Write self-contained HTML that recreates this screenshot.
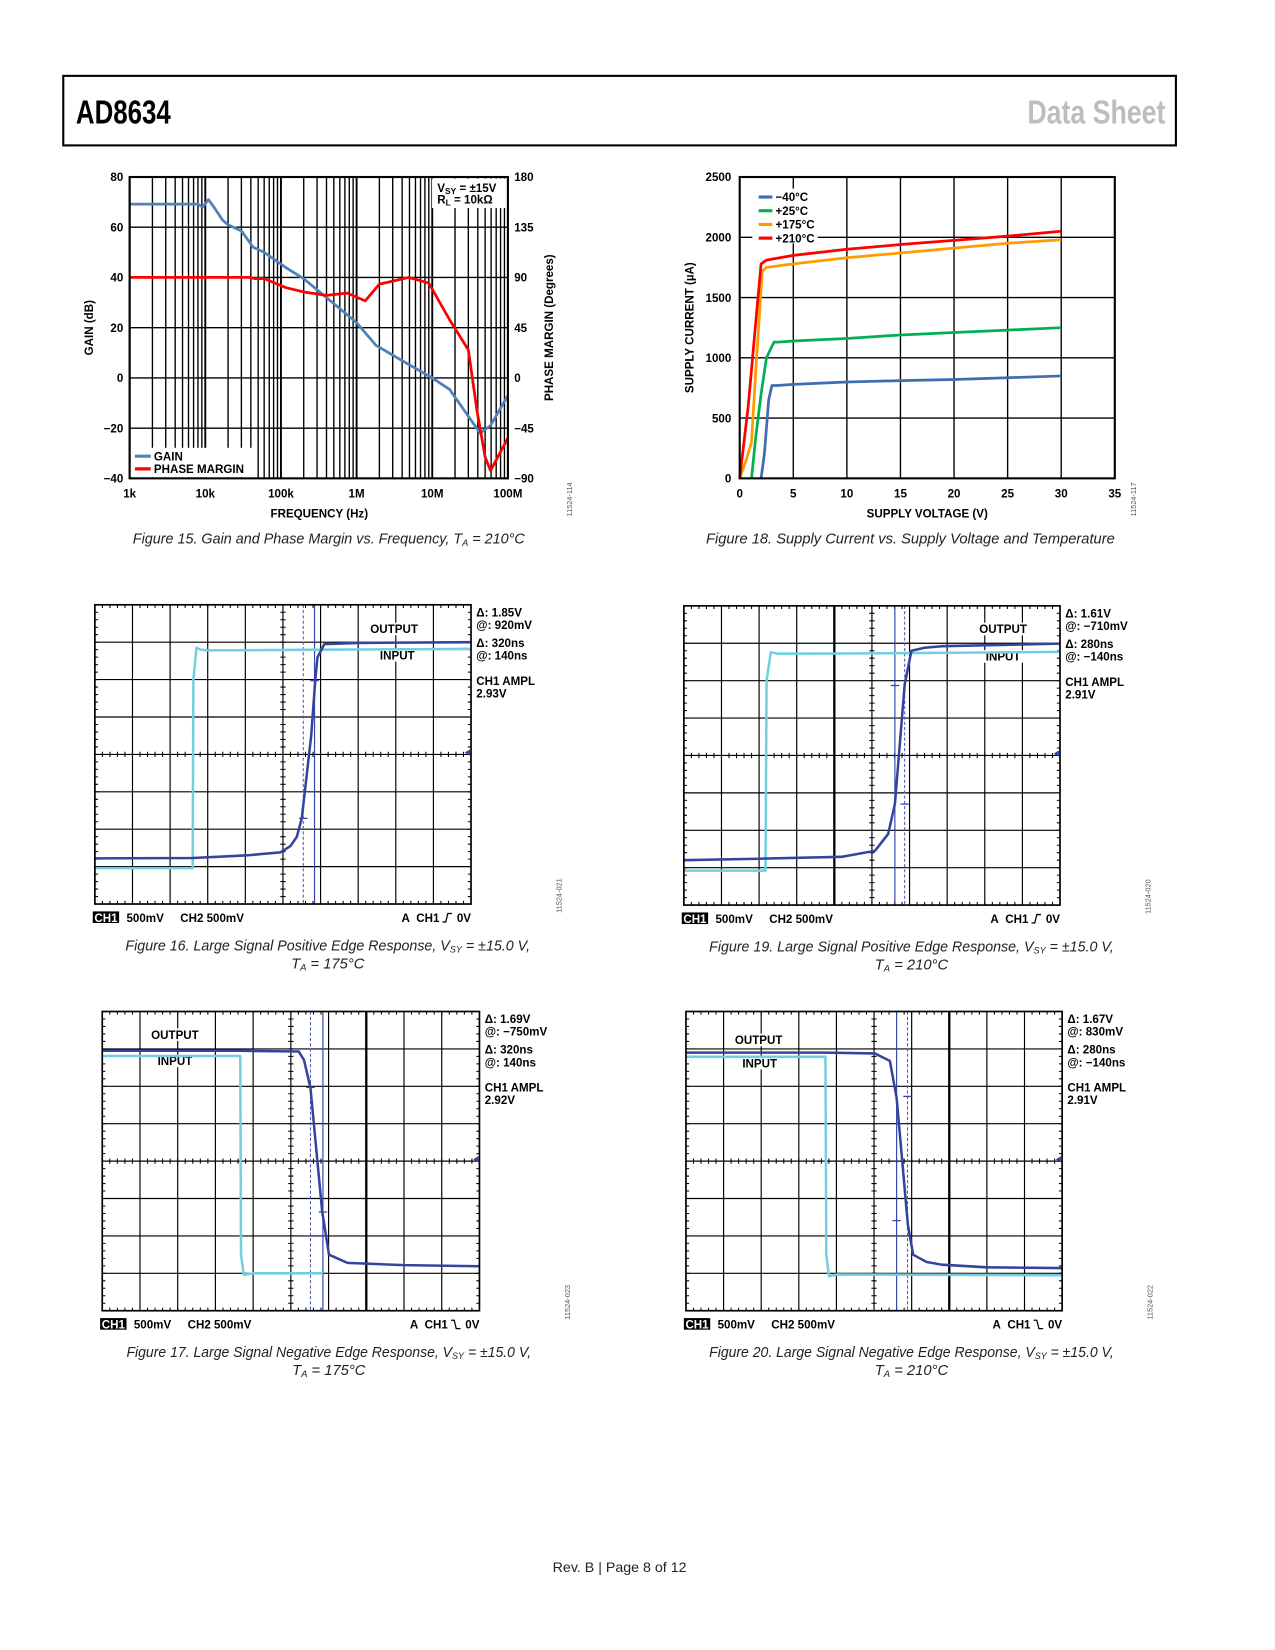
<!DOCTYPE html>
<html><head><meta charset="utf-8"><style>
html,body{margin:0;padding:0;background:#fff;}
svg{display:block;}
text{font-family:"Liberation Sans",sans-serif;}
.b{font-weight:bold;font-size:11px;fill:#000;}
.cap{font-style:italic;font-size:14px;fill:#222;}
.code{font-size:7px;fill:#555;}
</style></head><body>
<svg id="page" width="1275" height="1650" viewBox="0 0 1210 1566" xmlns="http://www.w3.org/2000/svg">
<rect x="60" y="72" width="1056" height="66" fill="none" stroke="#000" stroke-width="2"/>
<text x="72" y="117" font-family="Liberation Sans Narrow, Liberation Sans, sans-serif" font-weight="bold" font-size="32" textLength="90" lengthAdjust="spacingAndGlyphs">AD8634</text>
<text x="975" y="117" font-family="Liberation Sans Narrow, Liberation Sans, sans-serif" font-weight="bold" font-size="32" fill="#bdbdbd" textLength="131" lengthAdjust="spacingAndGlyphs">Data Sheet</text>

<g id="c1"></g>
<text class="b" transform="translate(88,311) rotate(-90)" text-anchor="middle">GAIN (dB)</text>
<text class="b" transform="translate(525,311) rotate(-90)" text-anchor="middle">PHASE MARGIN (Degrees)</text>
<text class="b" x="303" y="491" text-anchor="middle">FREQUENCY (Hz)</text>
<text class="code" transform="translate(543,474) rotate(-90)" text-anchor="middle">11524-114</text>
<text class="cap" x="312" y="516" text-anchor="middle" textLength="372" lengthAdjust="spacingAndGlyphs">Figure 15. Gain and Phase Margin vs. Frequency, T<tspan font-size="9" dy="2">A</tspan><tspan dy="-2"> = 210°C</tspan></text>

<g id="c2"></g>
<text class="b" transform="translate(658,311) rotate(-90)" text-anchor="middle">SUPPLY CURRENT (µA)</text>
<text class="b" x="880" y="491" text-anchor="middle">SUPPLY VOLTAGE (V)</text>
<text class="code" transform="translate(1078,474) rotate(-90)" text-anchor="middle">11524-117</text>
<text class="cap" x="864" y="516" text-anchor="middle" textLength="388" lengthAdjust="spacingAndGlyphs">Figure 18. Supply Current vs. Supply Voltage and Temperature</text>

<g id="scopes"></g>

<text x="588" y="1492" text-anchor="middle" font-size="13.5" fill="#222">Rev. B | Page 8 of 12</text>
</svg>
<script>
// ---------- Chart 1 data ----------
const gainFreq = [1e3,8e3,9.2e3,11e3,13e3,17e3,20e3,30e3,43e3,60e3,115e3,200e3,400e3,1e6,1.8e6,4.9e6,1e7,1.7e7,3.2e7,4.3e7,5.9e7,1e8];
const gainDb   = [69.2,69.2,68,71,68,62.8,61,58.5,52,50,44,39.5,32,22,13,5.3,0,-4.6,-16.5,-22,-19,-7];
const phaseFreq = [1e3,38e3,45e3,60e3,115e3,200e3,400e3,750e3,1.3e6,2e6,4.9e6,9e6,1.7e7,3e7,3.9e7,5e7,5.9e7,1e8];
const phaseDeg  = [90,90,89,89,81,77,74,76,69,84,90,85,52,25,-29,-71,-83,-54];
const gainTicks = [80,60,40,20,0,-20,-40];
const phaseTicks = [180,135,90,45,0,-45,-90];
const freqTickLabels = ['1k','10k','100k','1M','10M','100M'];
// ---------- Chart 2 data ----------
const seriesNames = ['−40°C','+25°C','+175°C','+210°C'];
const vM40 = [2.0,2.3,2.7,3.0,3.5,5,10,15,20,25,30];
const iM40 = [0,200,650,770,770,780,800,810,820,835,850];
const v25 = [1.1,1.5,2.0,2.5,3.2,3.6,5,10,15,20,25,30];
const i25 = [0,350,700,1000,1130,1130,1140,1160,1190,1210,1230,1250];
const v175 = [0,0.6,1.1,1.5,2.1,2.5,5,10,15,20,25,30];
const i175 = [0,150,300,900,1720,1750,1780,1830,1870,1910,1950,1980];
const v210 = [0,0.8,1.5,2.0,2.5,5,10,15,20,25,30];
const i210 = [0,600,1300,1780,1810,1850,1900,1940,1975,2010,2050];
const voltTicks = [0,5,10,15,20,25,30,35];
const currentTicks = [0,500,1000,1500,2000,2500];
// ---------- Scope data (time div, level div from top) ----------
const s16InT = [0,2.6,2.62,2.7,2.8,3.0,6,10];
const s16InV = [7.04,7.04,2,1.15,1.2,1.22,1.2,1.18];
const s16OutT = [0,2.6,4,4.93,5.2,5.37,5.5,5.75,5.86,5.92,6.1,7,10];
const s16OutV = [6.78,6.77,6.7,6.62,6.45,6.2,5.7,3.5,2.0,1.4,1.05,1.02,1.0];
const s19InT = [0,2.17,2.2,2.31,2.5,5,10];
const s19InV = [7.08,7.08,2,1.24,1.28,1.27,1.23];
const s19OutT = [0,2,4.19,5.08,5.43,5.61,5.87,6.05,6.4,6.85,10];
const s19OutV = [6.8,6.76,6.71,6.55,6.1,5.3,2.1,1.2,1.12,1.08,1.01];
const s17InT = [0,3.66,3.68,3.75,4,5.85];
const s17InV = [1.19,1.19,6.5,7.04,7.0,7.0];
const s17OutT = [0,3.66,5.21,5.35,5.52,5.83,6.01,6.5,8,10];
const s17OutV = [1.05,1.05,1.07,1.3,2.04,5.34,6.5,6.72,6.78,6.81];
const s20InT = [0,3.71,3.73,3.8,4,10];
const s20InV = [1.21,1.21,6.5,7.08,7.03,7.05];
const s20OutT = [0,3.7,5.02,5.42,5.6,5.9,6.04,6.4,6.8,8,10];
const s20OutV = [1.1,1.1,1.12,1.32,2.3,5.7,6.5,6.7,6.77,6.84,6.86];

const NS='http://www.w3.org/2000/svg';
function mk(tag, attrs, parent){const e=document.createElementNS(NS,tag);for(const k in attrs)e.setAttribute(k,attrs[k]);parent.appendChild(e);return e;}
function pts(xs,ys,fx,fy){return xs.map((x,i)=>fx(x).toFixed(1)+','+fy(ys[i]).toFixed(1)).join(' ');}

// ===== Chart 1 =====
(function(){
const g=document.getElementById('c1');
const L=123,R=482,T=168,B=454;
const xs=f=>L+(Math.log10(f)-3)*(R-L)/5;
const yg=v=>T+(80-v)*(B-T)/120;
const yp=v=>T+(180-v)*(B-T)/270;
let e;
for(let d=3;d<8;d++)for(let m=1;m<10;m++){const f=m*Math.pow(10,d);if(f>1e8)break;
 e=mk('line',{x1:xs(f),x2:xs(f),y1:T,y2:B,stroke:'#000','stroke-width':m==1?1.8:1.3},g);
 
 }
gainTicks.forEach(v=>{
 e=mk('line',{x1:L,x2:R,y1:yg(v),y2:yg(v),stroke:'#000','stroke-width':1.3},g);
 
 
 e=mk('text',{x:117,y:yg(v)+4,'text-anchor':'end',class:'b'},g);e.textContent=v<0?'−'+(-v):v;
 
 });
phaseTicks.forEach(v=>{
 e=mk('text',{x:488,y:yp(v)+4,class:'b'},g);e.textContent=v<0?'−'+(-v):v;
 
 });
freqTickLabels.forEach((t,i)=>{
 e=mk('text',{x:xs(Math.pow(10,3+i)),y:472,'text-anchor':'middle',class:'b'},g);e.textContent=t;
 
 });
e=mk('rect',{x:410,y:169.5,width:71,height:28,fill:'#fff'},g);


e=mk('text',{x:415,y:182,class:'b'},g);e.innerHTML='V<tspan font-size="8" dy="2">SY</tspan><tspan dy="-2"> = ±15V</tspan>';


e=mk('text',{x:415,y:193,class:'b'},g);e.innerHTML='R<tspan font-size="8" dy="2">L</tspan><tspan dy="-2"> = 10kΩ</tspan>';


e=mk('rect',{x:124,y:425,width:118,height:28,fill:'#fff'},g);


e=mk('polyline',{points:pts(gainFreq,gainDb,xs,yg),fill:'none',stroke:'#4f81bd','stroke-width':2.6,'stroke-linejoin':'round'},g);


e=mk('polyline',{points:pts(phaseFreq,phaseDeg,xs,yp),fill:'none',stroke:'#ff0000','stroke-width':2.6,'stroke-linejoin':'round'},g);


e=mk('line',{x1:128,x2:143,y1:433,y2:433,stroke:'#4f81bd','stroke-width':3},g);


e=mk('text',{x:146,y:437,class:'b'},g);e.textContent='GAIN';


e=mk('line',{x1:128,x2:143,y1:445,y2:445,stroke:'#ff0000','stroke-width':3},g);


e=mk('text',{x:146,y:449,class:'b'},g);e.textContent='PHASE MARGIN';


e=mk('rect',{x:L,y:T,width:R-L,height:B-T,fill:'none',stroke:'#000','stroke-width':2},g);


})();

// ===== Chart 2 =====
(function(){
const g=document.getElementById('c2');
const L=702,R=1058,T=168,B=454;
const xv=v=>L+v*(R-L)/35;
const yi=i=>B-i*(B-T)/2500;
let e;
voltTicks.forEach(v=>{
 e=mk('line',{x1:xv(v),x2:xv(v),y1:T,y2:B,stroke:'#000','stroke-width':1.3},g);
 
 
 e=mk('text',{x:xv(v),y:472,'text-anchor':'middle',class:'b'},g);e.textContent=v;
 
 });
currentTicks.forEach(i=>{
 e=mk('line',{x1:L,x2:R,y1:yi(i),y2:yi(i),stroke:'#000','stroke-width':1.3},g);
 
 
 e=mk('text',{x:694,y:yi(i)+4,'text-anchor':'end',class:'b'},g);e.textContent=i;
 
 });
e=mk('rect',{x:714,y:179,width:62,height:52,fill:'#fff'},g);


const cols=['#3e6eb0','#00b050','#ff9a00','#ff0000'];
const VX=[vM40,v25,v175,v210],IY=[iM40,i25,i175,i210];
for(let k=0;k<4;k++){
 e=mk('polyline',{points:pts(VX[k],IY[k],xv,yi),fill:'none',stroke:cols[k],'stroke-width':2.6,'stroke-linejoin':'round'},g);
 
 
 e=mk('line',{x1:720,x2:733,y1:187+k*13,y2:187+k*13,stroke:cols[k],'stroke-width':3},g);
 
 
 e=mk('text',{x:736,y:191+k*13,class:'b'},g);e.textContent=seriesNames[k];
 
 }
e=mk('rect',{x:L,y:T,width:R-L,height:B-T,fill:'none',stroke:'#000','stroke-width':2},g);


})();

// ===== Scopes =====
const scopeDefs=[
 {n:16,x:90,y:574,w:357,h:284,inT:s16InT,inV:s16InV,outT:s16OutT,outV:s16OutV,c1:5.54,c2:5.84,tk:[2.03,5.71],thick:null,
  txt:['Δ: 1.85V','@: 920mV','Δ: 320ns','@: 140ns','2.93V'],out:[374,601],inp:[377,626],pos:true,code:'11524-021',cap:'Positive',ta:'175',cc:311},
 {n:19,x:649,y:575,w:357,h:284,inT:s19InT,inV:s19InV,outT:s19OutT,outV:s19OutV,c1:5.87,c2:5.61,tk:[2.13,5.3],thick:4,
  txt:['Δ: 1.61V','@: −710mV','Δ: 280ns','@: −140ns','2.91V'],out:[952,601],inp:[952,627],pos:true,code:'11524-020',cap:'Positive',ta:'210',cc:865},
 {n:17,x:97,y:960,w:358,h:284,inT:s17InT,inV:s17InV,outT:s17OutT,outV:s17OutV,c1:5.52,c2:5.85,tk:[2.03,5.36],thick:7,
  txt:['Δ: 1.69V','@: −750mV','Δ: 320ns','@: 140ns','2.92V'],out:[166,986],inp:[166,1011],pos:false,code:'11524-023',cap:'Negative',ta:'175',cc:312},
 {n:20,x:651,y:960,w:357,h:284,inT:s20InT,inV:s20InV,outT:s20OutT,outV:s20OutV,c1:5.89,c2:5.6,tk:[2.27,5.59],thick:7,
  txt:['Δ: 1.67V','@: 830mV','Δ: 280ns','@: −140ns','2.91V'],out:[720,991],inp:[721,1013],pos:false,code:'11524-022',cap:'Negative',ta:'210',cc:865}
];
const root=document.getElementById('scopes');
scopeDefs.forEach(s=>{
 const g=mk('g',{},root);
 
 
 const xd=d=>s.x+d*s.w/10, yd=d=>s.y+d*s.h/8;
 let e;
 for(let i=1;i<10;i++){e=mk('line',{x1:xd(i),x2:xd(i),y1:s.y,y2:s.y+s.h,stroke:'#000','stroke-width':i===s.thick?2.2:1.1},g);
  
  }
 for(let i=1;i<8;i++){e=mk('line',{x1:s.x,x2:s.x+s.w,y1:yd(i),y2:yd(i),stroke:'#000','stroke-width':1.1},g);
  
  }
 let tp='';
 for(let i=1;i<50;i++){const X=xd(i/5);tp+=`M${X},${yd(4)-2.5}v5M${X},${s.y}v3M${X},${s.y+s.h}v-3`;}
 for(let i=1;i<40;i++){const Y=yd(i/5);tp+=`M${xd(5)-2.5},${Y}h5M${s.x},${Y}h3M${s.x+s.w},${Y}h-3`;}
 e=mk('path',{d:tp,stroke:'#000','stroke-width':1},g);
 
 
 e=mk('line',{x1:xd(s.c1),x2:xd(s.c1),y1:s.y,y2:s.y+s.h,stroke:'#4a5cc0','stroke-width':1,'stroke-dasharray':'3,2'},g);
 
 
 e=mk('line',{x1:xd(s.c2),x2:xd(s.c2),y1:s.y,y2:s.y+s.h,stroke:'#3344aa','stroke-width':1.1},g);
 
 
 [['OUTPUT',s.out],['INPUT',s.inp]].forEach(([t,p])=>{
  e=mk('rect',{x:p[0]-(t.length*4.2),y:p[1]-10,width:t.length*8.4,height:12,fill:'#fff'},g);
  
  
  e=mk('text',{x:p[0],y:p[1],'text-anchor':'middle',class:'b'},g);e.textContent=t;
  
  });
 e=mk('polyline',{points:pts(s.inT,s.inV,xd,yd),fill:'none',stroke:'#72cfe0','stroke-width':2.4,'stroke-linejoin':'round'},g);
 
 
 e=mk('polyline',{points:pts(s.outT,s.outV,xd,yd),fill:'none',stroke:'#34449c','stroke-width':2.4,'stroke-linejoin':'round'},g);
 
 
 s.tk.forEach((v,i)=>{const cx=xd(i==0?(s.pos?s.c2:s.c1):(s.pos?s.c1:s.c2));
  e=mk('line',{x1:cx-4,x2:cx+4,y1:yd(v),y2:yd(v),stroke:'#3344aa','stroke-width':1.2},g);
  
  });
 e=mk('path',{d:`M${s.x+s.w-1},${yd(3.95)-3}l-5,3l5,3z`,fill:'#3344aa'},g);
 
 
 e=mk('rect',{x:s.x,y:s.y,width:s.w,height:s.h,fill:'none',stroke:'#000','stroke-width':1.6},g);
 
 
 const px=s.x+s.w+5, off=[7,19,36,48,84];
 s.txt.forEach((t,i)=>{e=mk('text',{x:px,y:s.y+off[i]+4,class:'b'},g);e.textContent=t;
  
  });
 e=mk('text',{x:px,y:s.y+76,class:'b'},g);e.textContent='CH1 AMPL';
 
 
 const by=s.y+s.h+17;
 e=mk('rect',{x:s.x-2,y:by-10,width:25,height:11,fill:'#000'},g);
 
 
 e=mk('text',{x:s.x+10.5,y:by,'text-anchor':'middle',class:'b',style:'fill:#fff'},g);e.textContent='CH1';
 
 
 e=mk('text',{x:s.x+30,y:by,class:'b'},g);e.textContent='500mV';
 
 
 e=mk('text',{x:s.x+81,y:by,class:'b'},g);e.textContent='CH2 500mV';
 
 
 e=mk('text',{x:s.x+s.w-30,y:by,'text-anchor':'end',class:'b'},g);e.textContent='A\u00A0\u00A0CH1';
 
 
 e=mk('text',{x:s.x+s.w,y:by,'text-anchor':'end',class:'b'},g);e.textContent='0V';
 
 
 const sx=s.x+s.w-27;
 e=mk('path',{d:s.pos?`M${sx},${by}h3l2,-8h4`:`M${sx},${by-8}h3l2,8h4`,fill:'none',stroke:'#000','stroke-width':1.2},g);
 
 
 e=mk('text',{transform:`translate(${s.x+s.w+86},${s.y+s.h-8}) rotate(-90)`,'text-anchor':'middle',class:'code'},g);e.textContent=s.code;
 
 
 e=mk('text',{x:s.cc,y:s.y+s.h+44,'text-anchor':'middle',class:'cap',textLength:384,lengthAdjust:'spacingAndGlyphs'},g);
 e.innerHTML=`Figure ${s.n}. Large Signal ${s.cap} Edge Response, V<tspan font-size="9" dy="2">SY</tspan><tspan dy="-2"> = ±15.0 V,</tspan>`;
 
 
 e=mk('text',{x:s.cc,y:s.y+s.h+61,'text-anchor':'middle',class:'cap'},g);
 e.innerHTML=`T<tspan font-size="9" dy="2">A</tspan><tspan dy="-2"> = ${s.ta}°C</tspan>`;
 
 
});
</script>
</body></html>
